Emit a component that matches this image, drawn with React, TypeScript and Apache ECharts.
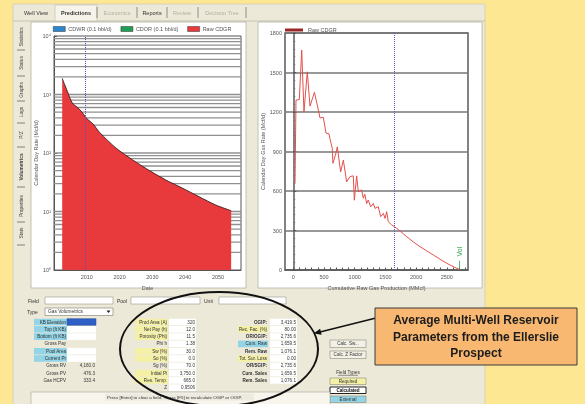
import React, { useEffect, useRef } from 'react';
import * as echarts from 'echarts';

// ---- Rate vs. date (log scale) ----
const forecastYears = [2002.5, 2003.3, 2004.3, 2005.1, 2005.8, 2007.1, 2008.4, 2009.9, 2011.9, 2013.9, 2019.0, 2024.0, 2029.1, 2034.1, 2039.2, 2044.2, 2049.3, 2054.0];
const forecastRates = [1890, 1450, 1050, 805, 690, 605, 510, 392, 313, 225, 120, 76, 50, 34.5, 25, 17.9, 12.9, 10.3];
const logGridLines = [
  2, 3, 4, 5, 6, 7, 8, 9, 10,
  20, 30, 40, 50, 60, 70, 80, 90, 100,
  200, 300, 400, 500, 600, 700, 800, 900, 1000,
  2000, 3000, 4000, 5000, 6000, 7000, 8000, 9000,
];
const currentYear = 2009.5;

// ---- Rate vs. cumulative production ----
const cumProduction = [28, 44, 98, 137, 174, 228, 272, 345, 435, 489, 533, 581, 600, 635, 645, 690, 717, 771, 815, 869, 923, 977, 994, 1032, 1059, 1113, 1140, 1165, 1195, 1221, 1260, 1303, 1331, 1384, 1423, 1466, 1494, 1521, 1547, 1603, 1645, 1750, 1847, 1950, 2064, 2170, 2280, 2390, 2498, 2600, 2699];
const cumRates = [660, 1290, 1295, 1670, 1200, 1505, 1245, 1350, 1155, 1160, 1040, 1035, 990, 925, 810, 880, 935, 745, 835, 670, 710, 715, 530, 715, 595, 608, 545, 575, 505, 532, 480, 506, 468, 481, 405, 430, 392, 443, 367, 342, 330, 292, 253, 215, 177, 146, 114, 82, 51, 27, 5];
const cumLabelTicks = [0, 500, 1000, 1500, 2000, 2500];
const cumMinorTicks = [0, 100, 200, 300, 400, 500, 600, 700, 800, 900, 1000, 1100, 1200, 1300, 1400, 1500, 1600, 1700, 1800, 1900, 2000, 2100, 2200, 2300, 2400, 2500, 2600, 2700, 2800];
const cumCurrent = 1645;
const volumeLimit = 2700;

// ---- Form contents ----
const tabNames = ['Well View', 'Predictions', 'Economics', 'Reports', 'Review', 'Decision Tree'];
const tabEnabled = [true, true, false, true, false, false];
const sideTabs = ['Statistics', 'Status', 'Graphs', 'Logs', 'P/Z', 'Volumetrics', 'Properties', 'Stats'];

const leftLabels = ['KB Elevation', 'Top (ft KB)', 'Bottom (ft KB)', 'Gross Pay', 'Pool Area', 'Current Pr', 'Gross RV', 'Gross PV', 'Gas HCPV'];
const leftValues = ['', '', '', '', '', '', '4,160.0', '476.3', '333.4'];
const leftKinds = ['ext', 'ext', 'ext', '', 'ext', 'ext', '', '', ''];

const midLabels = ['Prod Area (A)', 'Net Pay (h)', 'Porosity (Phi)', 'Phi h', 'Sw (%)', 'So (%)', 'Sg (%)', 'Initial Pi', 'Res. Temp.', 'Z'];
const midValues = ['320', '12.0', '11.5', '1.38', '30.0', '0.0', '70.0', '3,750.0', '665.0', '0.9506'];
const midKinds = ['req', 'req', 'req', '', 'req', 'req', '', 'req', 'req', ''];

const rightLabels = ['OGIP:', 'Rec. Fac. (%)', 'OR/OGIP:', 'Cum. Raw', 'Rem. Raw', 'Tot. Sur. Loss', 'OR/SGIP:', 'Cum. Sales', 'Rem. Sales'];
const rightValues = ['3,419.5', '80.00', '2,735.6', '1,659.5', '1,076.1', '0.00', '2,735.6', '1,659.5', '1,076.1'];
const rightKinds = ['calc', 'req', 'calc', 'ext', 'calc', 'req', 'calc', 'calc', 'calc'];

const calloutLines = ['Average Multi-Well Reservoir', 'Parameters from the Ellerslie', 'Prospect'];

const FONT = '"Liberation Sans", Arial, sans-serif';
const YELLOW_BG = '#FDE793';
const WIN = '#ECE9D9';
const CYAN = '#93D4E6';
const REQ = '#F4F0A6';
const SUP: Record<string, string> = { '0': '\u2070', '1': '\u00B9', '2': '\u00B2', '3': '\u00B3', '4': '\u2074' };

function box(x: number, y: number, w: number, h: number, fill: string, stroke = 'none', lw = 0.6, z = -1) {
  return { type: 'rect', z, silent: true, shape: { x, y, width: w, height: h }, style: { fill, stroke, lineWidth: lw } };
}

function txt(x: number, y: number, text: string, o: any = {}) {
  const align = o.align || 'left';
  return {
    type: 'text', z: o.z ?? 1, silent: true, x, y, rotation: o.rot || 0,
    style: {
      text, fill: o.color || '#333', fontSize: o.size || 5, fontFamily: FONT,
      fontWeight: o.bold ? 'bold' : 'normal', align, verticalAlign: 'middle',
      textAlign: align, textVerticalAlign: 'middle', lineHeight: o.lh,
    },
  };
}

function seg(x1: number, y1: number, x2: number, y2: number, stroke: string, lw = 1, z = 0) {
  return { type: 'line', z, silent: true, shape: { x1, y1, x2, y2 }, style: { stroke, lineWidth: lw } };
}

function buildGraphics() {
  const g: any[] = [];
  // page and window
  g.push(box(0, 0, 585, 404, YELLOW_BG, 'none', 0, -5));
  g.push(box(13, 4, 472, 402, WIN, '#c9c5b2', 0.6, -4));
  g.push(seg(13, 21, 485, 21, '#bdb9a6', 0.8, -3));

  // top tabs
  const tabX = [36, 76, 117, 152, 182, 222];
  const sepX = [97, 137, 167, 198, 246];
  g.push(box(55, 5, 42, 16, '#F6F4EA', '#bdb9a6', 0.6, -3));
  tabNames.forEach((t, i) => {
    g.push(txt(tabX[i], 12.5, t, { align: 'center', size: 5.5, bold: i === 1, color: tabEnabled[i] ? '#333' : '#b3b0a3' }));
  });
  sepX.forEach((x) => g.push(seg(x, 7, x, 18, '#777', 0.8)));

  // side tabs
  const sideY = [37, 63, 90, 112, 135, 167, 206, 233];
  const sideSep = [50, 76, 101, 123, 147, 187, 222, 245];
  sideTabs.forEach((t, i) => {
    g.push(txt(21, sideY[i], t, { align: 'center', size: 4.8, rot: Math.PI / 2, bold: t === 'Volumetrics', color: '#444' }));
  });
  sideSep.forEach((y) => g.push(seg(17, y, 25, y, '#666', 0.8)));

  // chart panels
  g.push(box(31, 22, 215, 266, '#ffffff', '#b5b2a4', 0.8, -3));
  g.push(box(258, 22, 224, 266, '#ffffff', '#b5b2a4', 0.8, -3));

  // field / pool / unit row
  g.push(txt(28, 300.5, 'Field'));
  g.push(box(45, 297, 68, 7, '#fff', '#9a978a', 0.6, 0));
  g.push(txt(117, 300.5, 'Pool'));
  g.push(box(131, 297, 69, 7, '#fff', '#9a978a', 0.6, 0));
  g.push(txt(204, 300.5, 'Unit'));
  g.push(box(219, 297, 67, 7, '#fff', '#9a978a', 0.6, 0));
  g.push(txt(27, 311.5, 'Type'));
  g.push(box(45, 308, 68, 7.5, '#fff', '#7d7a6e', 0.6, 0));
  g.push(txt(48, 311.8, 'Gas Volumetrics', { size: 4.8 }));
  g.push({ type: 'polygon', z: 1, silent: true, shape: { points: [[106.5, 310.5], [110.5, 310.5], [108.5, 313]] }, style: { fill: '#222' } });

  const y0 = 322;
  const dy = 7.3;
  leftLabels.forEach((t, i) => {
    const y = y0 + i * dy;
    if (leftKinds[i] === 'ext') g.push(box(34, y - 3.3, 33, 6.6, CYAN, 'none', 0, 0));
    g.push(txt(66, y, t, { align: 'right', size: 4.6 }));
    if (i === 0) g.push(box(67, y - 3.3, 29, 6.6, '#2f5fc6', '#24489a', 0.5, 0));
    else if (leftKinds[i] === 'ext') g.push(box(67, y - 3.3, 29, 6.6, '#fff', 'none', 0, 0));
    if (leftValues[i]) g.push(txt(95, y, leftValues[i], { align: 'right', size: 4.6 }));
  });

  midLabels.forEach((t, i) => {
    const y = y0 + i * dy;
    if (midKinds[i] === 'req') g.push(box(135, y - 3.3, 33, 6.6, REQ, 'none', 0, 0));
    g.push(txt(167, y, t, { align: 'right', size: 4.6 }));
    g.push(box(169, y - 3.3, 27, 6.6, '#fff', 'none', 0, 0));
    g.push(txt(195, y, midValues[i], { align: 'right', size: 4.6 }));
  });

  rightLabels.forEach((t, i) => {
    const y = y0 + i * dy;
    const k = rightKinds[i];
    if (k === 'req') g.push(box(238, y - 3.3, 30, 6.6, REQ, 'none', 0, 0));
    if (k === 'ext') g.push(box(238, y - 3.3, 30, 6.6, CYAN, 'none', 0, 0));
    g.push(txt(267, y, t, { align: 'right', size: 4.6, bold: k === 'calc' }));
    g.push(box(270, y - 3.3, 27, 6.6, '#fff', 'none', 0, 0));
    g.push(txt(296, y, rightValues[i], { align: 'right', size: 4.6 }));
  });

  // buttons and field-type legend
  g.push(box(330, 340, 36, 7.5, '#F3F1E6', '#8c897c', 0.6, 0));
  g.push(txt(348, 343.8, 'Calc. Sw...', { align: 'center', size: 4.6 }));
  g.push(box(330, 351, 36, 7.5, '#F3F1E6', '#8c897c', 0.6, 0));
  g.push(txt(348, 354.8, 'Calc. Z Factor', { align: 'center', size: 4.6 }));
  g.push(txt(348, 372.5, 'Field Types', { align: 'center', size: 4.6 }));
  g.push(seg(338, 375.3, 358, 375.3, '#333', 0.5, 1));
  g.push(box(330, 378, 36, 6.5, REQ, '#8c897c', 0.6, 0));
  g.push(txt(348, 381.3, 'Required', { align: 'center', size: 4.6 }));
  g.push(box(330, 387, 36, 6.5, '#ffffff', '#222', 1, 0));
  g.push(txt(348, 390.3, 'Calculated', { align: 'center', size: 4.6, bold: true, color: '#111' }));
  g.push(box(330, 396, 36, 6.5, CYAN, '#8c897c', 0.6, 0));
  g.push(txt(348, 399.3, 'External', { align: 'center', size: 4.6 }));

  // status bar
  g.push(box(31, 392, 299, 14, '#F7F5EC', '#a9a697', 0.6, 0));
  g.push(box(105, 393.5, 149, 7, '#EDEBDF', 'none', 0, 0));
  g.push(txt(107, 397, 'Press [Enter] to clear a field.  Press [F5] to recalculate OGIP or OOIP.', { size: 4.4 }));

  // highlight ellipse, arrow and callout
  g.push({ type: 'ellipse', z: 60, silent: true, shape: { cx: 219, cy: 349, rx: 99, ry: 57 }, style: { fill: 'transparent', stroke: '#111', lineWidth: 2 } });
  g.push(seg(376, 318, 319, 332.3, '#111', 1.4, 60));
  g.push({ type: 'polygon', z: 60, silent: true, shape: { points: [[313.5, 333.6], [321.6, 334.8], [320.1, 328.7]] }, style: { fill: '#111' } });
  g.push(box(375, 308, 202, 57, '#F9B871', '#3a3a3a', 1, 60));
  g.push(txt(476, 336.5, calloutLines.join('\n'), { align: 'center', size: 12, bold: true, color: '#1c1c1c', lh: 16.5, z: 61 }));
  return g;
}

function buildOption(): any {
  const LX_MIN = 2000;
  const LX_MAX = 2057;
  const plain = (v: number) => String(v);
  const axisText = { fontSize: 5.5, color: '#555', fontFamily: FONT };
  return {
    animation: false,
    textStyle: { fontFamily: FONT },
    graphic: { elements: buildGraphics() },
    legend: [
      {
        left: 53, top: 26, padding: 0, itemWidth: 12, itemHeight: 5, itemGap: 9,
        textStyle: { fontSize: 5.5, color: '#555', padding: [0, 0, 0, -2] },
        itemStyle: { borderColor: '#333', borderWidth: 0.5 },
        data: [
          { name: 'CDWR (0.1 bbl/d)', icon: 'rect' },
          { name: 'CDOR (0.1 bbl/d)', icon: 'rect' },
          { name: 'Raw CDGR', icon: 'rect', itemStyle: { color: '#E8393C' } },
        ],
      },
      {
        left: 285, top: 27, padding: 0, itemWidth: 18, itemHeight: 3,
        textStyle: { fontSize: 5.5, color: '#555' },
        data: [{ name: 'Raw CDGR', icon: 'rect', itemStyle: { color: '#9a2626', borderWidth: 0 } }],
      },
    ],
    grid: [
      { left: 54, top: 36, width: 187, height: 234, show: true, borderColor: '#555', borderWidth: 1 },
      { left: 285, top: 33, width: 183, height: 237, show: true, borderColor: '#5a5a5a', borderWidth: 1.5 },
    ],
    xAxis: [
      {
        gridIndex: 0, type: 'value', min: LX_MIN, max: LX_MAX, interval: 10,
        name: 'Date', nameLocation: 'middle', nameGap: 11, nameTextStyle: { fontSize: 5.5, color: '#555' },
        axisLine: { lineStyle: { color: '#555' } },
        axisTick: { inside: true, length: 3, lineStyle: { color: '#555' } },
        axisLabel: { ...axisText, margin: 4, showMinLabel: false, showMaxLabel: false, formatter: plain },
        splitLine: { show: false },
      },
      {
        gridIndex: 1, type: 'value', min: -135, max: 2845,
        name: 'Cumulative Raw Gas Production (MMcf)', nameLocation: 'middle', nameGap: 11,
        nameTextStyle: { fontSize: 5.5, color: '#555' },
        axisLine: { lineStyle: { color: '#5a5a5a', width: 1.5 } },
        axisTick: { inside: true, length: 2.5, customValues: cumMinorTicks, lineStyle: { color: '#555' } },
        axisLabel: { ...axisText, margin: 4, customValues: cumLabelTicks, formatter: plain },
        splitLine: { show: false },
      },
    ],
    yAxis: [
      {
        gridIndex: 0, type: 'log', logBase: 10, min: 1, max: 10000,
        name: 'Calendar Day Rate (Mcf/d)', nameLocation: 'middle', nameGap: 15, nameRotate: 90,
        nameTextStyle: { fontSize: 5.5, color: '#555' },
        axisLine: { lineStyle: { color: '#555' } },
        axisTick: { inside: true, length: 3, lineStyle: { color: '#555' } },
        axisLabel: {
          ...axisText, margin: 3,
          formatter: (v: number) => '10' + String(Math.round(Math.log10(v))).split('').map((c) => SUP[c]).join(''),
        },
        splitLine: { show: false },
      },
      {
        gridIndex: 1, type: 'value', min: 0, max: 1800, interval: 300,
        name: 'Calendar Day Gas Rate (Mcf/d)', nameLocation: 'middle', nameGap: 16, nameRotate: 90,
        nameTextStyle: { fontSize: 5.5, color: '#555' },
        axisLine: { lineStyle: { color: '#5a5a5a', width: 1.5 } },
        axisTick: { inside: true, length: 3, lineStyle: { color: '#555' } },
        minorTick: { show: true, splitNumber: 5, length: 2, lineStyle: { color: '#777' } },
        axisLabel: { ...axisText, margin: 3, formatter: plain },
        splitLine: { show: true, lineStyle: { color: '#767676', width: 1.5 } },
      },
    ],
    series: [
      {
        type: 'custom', name: 'grid', xAxisIndex: 0, yAxisIndex: 0, z: 1, silent: true,
        data: logGridLines.map((v) => [LX_MIN, v]),
        encode: { x: 0, y: 1 },
        renderItem: (_p: any, api: any) => {
          const v = api.value(1);
          const a = api.coord([LX_MIN, v]);
          const b = api.coord([LX_MAX, v]);
          return { type: 'line', shape: { x1: a[0], y1: a[1], x2: b[0], y2: b[1] }, style: { stroke: '#909090', lineWidth: 1.3 } };
        },
      },
      { type: 'line', name: 'CDWR (0.1 bbl/d)', xAxisIndex: 0, yAxisIndex: 0, data: [], itemStyle: { color: '#2A86CF' }, lineStyle: { color: '#2A86CF' } },
      { type: 'line', name: 'CDOR (0.1 bbl/d)', xAxisIndex: 0, yAxisIndex: 0, data: [], itemStyle: { color: '#1E9E55' }, lineStyle: { color: '#1E9E55' } },
      {
        type: 'line', name: 'Raw CDGR', xAxisIndex: 0, yAxisIndex: 0, z: 2,
        data: forecastYears.map((yr, i) => [yr, forecastRates[i]]),
        showSymbol: false, smooth: 0.25,
        itemStyle: { color: '#E8393C' },
        lineStyle: { color: '#3b1c1c', width: 0.9 },
        areaStyle: { color: '#E8393C', opacity: 1, origin: 'start' },
        markLine: {
          silent: true, symbol: 'none', label: { show: false },
          lineStyle: { color: '#5a4fb0', type: 'dotted', width: 1 },
          data: [{ xAxis: currentYear }],
        },
      },
      {
        type: 'line', name: 'Raw CDGR', xAxisIndex: 1, yAxisIndex: 1, z: 3,
        data: cumProduction.map((c, i) => [c, cumRates[i]]),
        showSymbol: false,
        itemStyle: { color: '#9a2626' },
        lineStyle: { color: '#E2514B', width: 1 },
        markLine: {
          silent: true, symbol: 'none', label: { show: false },
          data: [
            { xAxis: cumCurrent, lineStyle: { color: '#5a5ab8', type: 'dotted', width: 1 } },
            [
              { coord: [volumeLimit, 0], lineStyle: { color: '#2e9e4a', type: 'solid', width: 0.8 } },
              { coord: [volumeLimit, 70] },
            ],
          ],
        },
        markPoint: {
          silent: true, symbol: 'rect', symbolSize: 1, itemStyle: { color: 'transparent' },
          data: [{
            coord: [volumeLimit, 140],
            label: { show: true, formatter: 'Vol', rotate: 90, color: '#2e9e4a', fontSize: 7, fontFamily: FONT },
          }],
        },
      },
    ],
  };
}

export default function App() {
  const ref = useRef<HTMLDivElement>(null);
  useEffect(() => {
    if (!ref.current) return;
    const chart = echarts.init(ref.current, null, { renderer: 'svg' });
    chart.setOption(buildOption());
    return () => chart.dispose();
  }, []);
  return <div ref={ref} style={{ position: 'fixed', left: 0, top: 0, width: 585, height: 404 }} />;
}
